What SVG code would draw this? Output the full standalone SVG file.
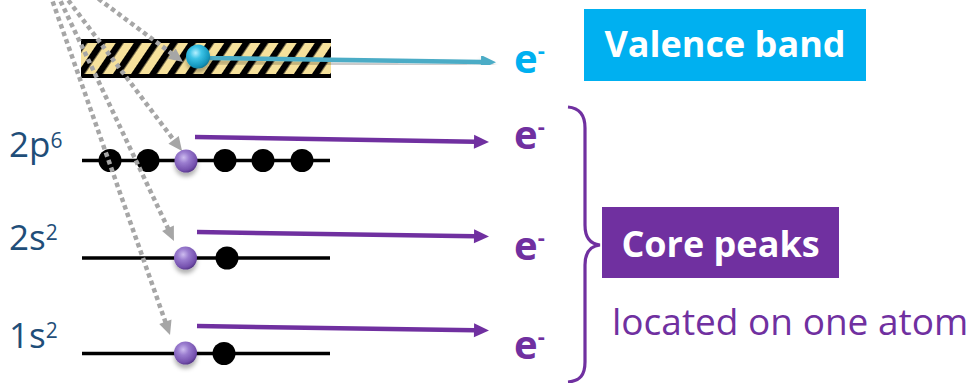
<svg xmlns="http://www.w3.org/2000/svg" width="967" height="383" viewBox="0 0 967 383">
<style>
.lvl{stroke:#000;stroke-width:3.5;fill:none}
.blk{fill:#000}
.lab{font-family:"Open Sans","Noto Sans","DejaVu Sans",sans-serif;font-size:35px;fill:#1F4E79}
.ee{font-family:"Open Sans","Noto Sans","DejaVu Sans",sans-serif;font-size:40px;font-weight:bold}
.box-t{font-family:"Open Sans","Noto Sans","DejaVu Sans",sans-serif;font-size:36px;font-weight:bold;fill:#fff;text-anchor:middle}
.dot{stroke:#a6a6a6;stroke-width:4.5;stroke-dasharray:4.5 3.5;fill:none}
.pa{stroke:#7030a0;stroke-width:4.5;fill:none}
.ba{stroke:#4bacc6;stroke-width:4.5;fill:none}
</style>
<defs>
<pattern id="hatch" width="15" height="15" patternUnits="userSpaceOnUse" patternTransform="rotate(34)">
<rect width="15" height="15" fill="#f6e19b"/>
<rect width="6.5" height="15" fill="#000"/>
</pattern>
<radialGradient id="gBlue" cx="0.4" cy="0.35" r="0.7">
<stop offset="0" stop-color="#b4f0ff"/>
<stop offset="0.35" stop-color="#3cc3e6"/>
<stop offset="0.8" stop-color="#1597bd"/>
<stop offset="1" stop-color="#0d6f8c"/>
</radialGradient>
<radialGradient id="gPurp" cx="0.4" cy="0.35" r="0.7">
<stop offset="0" stop-color="#cdbcef"/>
<stop offset="0.35" stop-color="#9a7ccf"/>
<stop offset="0.8" stop-color="#7450ad"/>
<stop offset="1" stop-color="#4e2f80"/>
</radialGradient>
<filter id="sh" x="-50%" y="-50%" width="200%" height="220%">
<feDropShadow dx="0" dy="4" stdDeviation="2.2" flood-color="#000" flood-opacity="0.3"/>
</filter>
<marker id="ahGray" markerUnits="userSpaceOnUse" markerWidth="14" markerHeight="13" refX="1" refY="6.5" orient="auto" overflow="visible">
<path d="M0,0 L14,6.5 L0,13 Z" fill="#a6a6a6"/>
</marker>
<marker id="ahPurp" markerUnits="userSpaceOnUse" markerWidth="15" markerHeight="14" refX="1" refY="7" orient="auto" overflow="visible">
<path d="M0,0 L15,7 L0,14 Z" fill="#7030a0"/>
</marker>
<marker id="ahBlue" markerUnits="userSpaceOnUse" markerWidth="15" markerHeight="14" refX="1" refY="7" orient="auto" overflow="visible">
<path d="M0,0 L15,7 L0,14 Z" fill="#4bacc6"/>
</marker>
</defs>

<g id="valence-band">
<rect x="81" y="39" width="250" height="39" fill="url(#hatch)"/>
<rect x="81" y="39" width="250" height="4" fill="#000"/>
<rect x="81" y="74" width="250" height="4" fill="#000"/>
</g>

<g id="level-2p6">
<text class="lab" x="9" y="157">2p<tspan font-size="21" dy="-9">6</tspan></text>
<line class="lvl" x1="82" y1="160.5" x2="330" y2="160.5"/>
<circle class="blk" cx="110" cy="160.5" r="11.5"/>
<circle class="blk" cx="148" cy="160.5" r="11.5"/>
<circle class="blk" cx="225" cy="160.5" r="11.5"/>
<circle class="blk" cx="263" cy="160.5" r="11.5"/>
<circle class="blk" cx="302" cy="160.5" r="11.5"/>
</g>

<g id="level-2s2">
<text class="lab" x="9" y="250">2s<tspan font-size="21" dy="-10">2</tspan></text>
<line class="lvl" x1="82" y1="258" x2="330" y2="258"/>
<circle class="blk" cx="227" cy="258" r="11.5"/>
</g>

<g id="level-1s2">
<text class="lab" x="9" y="348">1s<tspan font-size="21" dy="-10">2</tspan></text>
<line class="lvl" x1="82" y1="353.5" x2="330" y2="353.5"/>
<circle class="blk" cx="224" cy="353.5" r="11.5"/>
</g>

<g id="connectors">
<line class="dot" x1="92" y1="-6" x2="172.6" y2="54.2" marker-end="url(#ahGray)"/>
<line class="dot" x1="63.5" y1="-6" x2="174.2" y2="140.6" marker-end="url(#ahGray)"/>
<line class="dot" x1="57.2" y1="-6" x2="168.4" y2="229.2" marker-end="url(#ahGray)"/>
<line class="dot" x1="50" y1="-6" x2="165.7" y2="322.7" marker-end="url(#ahGray)"/>
<line class="ba" x1="209" y1="58" x2="482" y2="62" marker-end="url(#ahBlue)" filter="url(#sh)"/>
<line class="pa" x1="195" y1="137" x2="475" y2="141.8" marker-end="url(#ahPurp)"/>
<line class="pa" x1="197" y1="232" x2="475" y2="236.3" marker-end="url(#ahPurp)"/>
<line class="pa" x1="197" y1="326" x2="475" y2="330.3" marker-end="url(#ahPurp)"/>
</g>

<g id="electron-valence"><circle cx="198" cy="56.5" r="12" fill="url(#gBlue)" filter="url(#sh)"/></g>
<g id="electron-2p"><circle cx="186" cy="161" r="11.5" fill="url(#gPurp)" filter="url(#sh)"/></g>
<g id="electron-2s"><circle cx="185.5" cy="258" r="11.5" fill="url(#gPurp)" filter="url(#sh)"/></g>
<g id="electron-1s"><circle cx="185.5" cy="353" r="11.5" fill="url(#gPurp)" filter="url(#sh)"/></g>

<g id="e-valence"><text class="ee" x="514" y="73" fill="#00b0f0">e<tspan font-size="22" dy="-15">-</tspan></text></g>
<g id="e-2p"><text class="ee" x="514" y="149" fill="#7030a0">e<tspan font-size="22" dy="-15">-</tspan></text></g>
<g id="e-2s"><text class="ee" x="514" y="260" fill="#7030a0">e<tspan font-size="22" dy="-15">-</tspan></text></g>
<g id="e-1s"><text class="ee" x="514" y="359" fill="#7030a0">e<tspan font-size="22" dy="-15">-</tspan></text></g>

<g id="valence-label">
<rect x="584" y="9" width="282" height="72" fill="#00b0f0"/>
<text class="box-t" x="725" y="57">Valence band</text>
</g>

<g id="brace">
<path d="M568,107 C580,108 585,115 585,128 L585,225 C585,238 590,244 600,245 C590,246 585,252 585,265 L585,362 C585,375 580,381 568,382" stroke="#7030a0" stroke-width="3.2" fill="none"/>
</g>

<g id="core-label">
<rect x="602" y="207" width="237" height="71" fill="#7030a0"/>
<text class="box-t" x="720.5" y="257">Core peaks</text>
</g>

<g id="core-note">
<text x="612" y="335" font-family="'Open Sans','Noto Sans','DejaVu Sans',sans-serif" font-size="37" fill="#7030a0">located on one atom</text>
</g>
</svg>
